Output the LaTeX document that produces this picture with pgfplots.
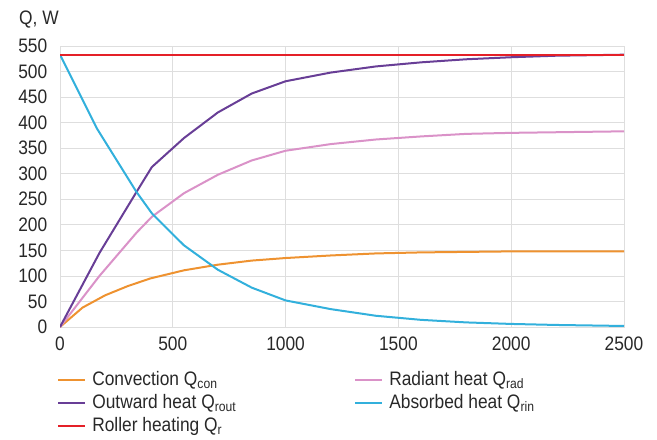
\documentclass[border=0pt]{standalone}
\usepackage{pgfplots}
\pgfplotsset{compat=1.18}
\usepackage{fontspec}
\setmainfont{Liberation Sans}[FakeStretch=0.89]
\definecolor{cOrange}{RGB}{238,146,48}
\definecolor{cPurple}{RGB}{104,62,150}
\definecolor{cRed}{RGB}{228,32,40}
\definecolor{cPink}{RGB}{218,146,200}
\definecolor{cBlue}{RGB}{50,176,220}
\definecolor{cGrid}{RGB}{222,222,222}
\definecolor{cText}{RGB}{40,40,40}
\begin{document}
\fontsize{19.5bp}{23bp}\selectfont
\begin{tikzpicture}
\begin{axis}[
  scale only axis,
  width=564bp, height=281bp,
  at={(0,0)}, anchor=south west,
  xmin=0, xmax=2500, ymin=0, ymax=550,
  xtick={0,500,...,2500}, ytick={0,50,...,550},
  grid=major,
  major grid style={cGrid, line width=0.8bp},
  axis line style={cGrid, line width=0.8bp},
  major tick length=0pt,
  tick label style={cText, font=\fontsize{19.5bp}{23bp}\selectfont},
  /pgf/number format/assume math mode=true,
  /pgf/number format/1000 sep={},
  yticklabel style={xshift=-6bp},
  xticklabel style={yshift=-3bp},
  legend style={at={(rel axis cs:0,0)}, anchor=north west, xshift=-6bp, yshift=-40bp,
    draw=none, fill=none, legend columns=2, font=\fontsize{19.5bp}{23bp}\selectfont, text=cText,
    /tikz/column 2/.style={column sep=116bp},
    row sep=2bp},
  legend cell align=left,
  legend image code/.code={\draw[#1, line width=2.2bp] (0bp,0bp) -- (27bp,0bp); \path (31bp,0bp);},
  every axis plot/.append style={line width=2bp},
]
\addplot[cOrange] coordinates {(0,0)(100,38)(200,62)(300,80)(400,95)(550,111)(700,122)(850,130)(1000,135)(1200,140)(1400,144)(1600,146)(1800,147)(2000,148)(2500,148)};
\addlegendentry{Convection Q\textsubscript{con}}
\addplot[cPink] coordinates {(0,0)(175,100)(340,185)(408,216)(550,262)(700,298)(850,326)(1000,345)(1200,358)(1400,367)(1600,373)(1800,378)(2000,380)(2500,383)};
\addlegendentry{Radiant heat Q\textsubscript{rad}}
\addplot[cPurple] coordinates {(0,0)(175,145)(340,265)(407,313)(550,370)(700,420)(850,457)(1000,481)(1200,498)(1400,510)(1600,518)(1800,524)(2000,528)(2200,531)(2500,533)};
\addlegendentry{Outward heat Q\textsubscript{rout}}
\addplot[cBlue] coordinates {(0,533)(163,389)(338,265)(408,222)(549,160)(700,112)(850,77)(1000,52)(1200,35)(1400,22)(1600,14)(1800,9)(2000,6)(2200,4)(2500,2)};
\addlegendentry{Absorbed heat Q\textsubscript{rin}}
\addplot[cRed] coordinates {(0,533)(2500,533)};
\addlegendentry{Roller heating Q\textsubscript{r}}
\end{axis}
\node[text=cText, anchor=center] at (-21bp,307bp) {Q, W};
\pgfresetboundingbox
\useasboundingbox (-60bp,-113bp) rectangle (597bp,327bp);
\end{tikzpicture}
\end{document}
